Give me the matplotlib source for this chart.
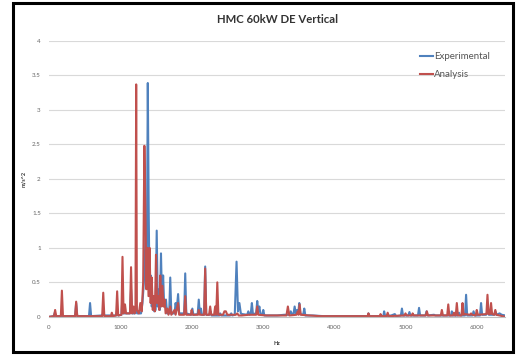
import matplotlib.pyplot as plt
from matplotlib.patches import Rectangle

plt.rcParams['font.family'] = ['Lato', 'DejaVu Sans']

# Experimental spectrum (Hz, m/s^2)
exp_hz = [0, 65, 80, 95, 365, 380, 395, 560, 575, 590, 740, 760, 780, 940, 955, 970,
          1015, 1030, 1045, 1135, 1150, 1165, 1205, 1220, 1235,
          1290, 1310, 1330, 1355, 1370, 1385, 1398, 1410, 1425, 1440, 1460, 1475,
          1495, 1510, 1525, 1545, 1555, 1570, 1585, 1600, 1615, 1640, 1655,
          1685, 1700, 1715, 1760, 1775, 1790, 1810, 1825, 1895, 1910, 1925,
          1995, 2010, 2025, 2085, 2100, 2115, 2130, 2145, 2175, 2190, 2205,
          2250, 2265, 2280, 2390, 2400, 2415, 2540, 2555, 2570,
          2605, 2630, 2650, 2670, 2690, 2710, 2780, 2795, 2810, 2830, 2845, 2860,
          2905, 2920, 2935, 2950, 2965, 2990, 3005, 3020, 3100, 3200, 3300,
          3370, 3390, 3410, 3430, 3445, 3460, 3480, 3495, 3510, 3525, 3565, 3580, 3595,
          3650, 3700, 3850, 4000, 4150, 4300, 4450, 4470, 4480, 4495,
          4690, 4700, 4715, 4800, 4850, 4870, 4935, 4950, 4965, 5040, 5055, 5070,
          5175, 5190, 5205, 5280, 5295, 5310, 5400, 5420, 5640, 5650, 5665,
          5735, 5750, 5765, 5835, 5850, 5865, 5940, 5955, 5970, 6045, 6060, 6075,
          6130, 6150, 6170, 6245, 6260, 6275, 6320, 6350, 6400]
exp_val = [0.0, 0.01, 0.06, 0.01, 0.01, 0.2, 0.01, 0.01, 0.2, 0.01, 0.02, 0.05, 0.02, 0.02, 0.1, 0.02,
           0.03, 0.3, 0.05, 0.05, 0.4, 0.05, 0.05, 0.17, 0.05,
           0.05, 0.2, 0.5, 1.2, 0.5, 3.39, 1.5, 0.3, 0.6, 0.15, 0.3, 0.08,
           0.1, 1.25, 0.15, 0.4, 0.1, 0.92, 0.2, 0.6, 0.15, 0.25, 0.05,
           0.05, 0.57, 0.05, 0.05, 0.2, 0.1, 0.33, 0.05, 0.05, 0.63, 0.05,
           0.03, 0.12, 0.03, 0.04, 0.25, 0.04, 0.12, 0.03, 0.03, 0.73, 0.03,
           0.03, 0.08, 0.02, 0.02, 0.05, 0.02, 0.02, 0.05, 0.02,
           0.03, 0.8, 0.08, 0.2, 0.05, 0.04, 0.03, 0.08, 0.03, 0.05, 0.2, 0.04,
           0.05, 0.23, 0.08, 0.15, 0.04, 0.03, 0.1, 0.02, 0.02, 0.02, 0.03,
           0.03, 0.08, 0.03, 0.05, 0.15, 0.05, 0.1, 0.05, 0.2, 0.04, 0.03, 0.12, 0.02,
           0.02, 0.02, 0.01, 0.01, 0.01, 0.01, 0.01, 0.01, 0.05, 0.01,
           0.01, 0.08, 0.01, 0.02, 0.04, 0.01, 0.02, 0.12, 0.02, 0.02, 0.07, 0.02,
           0.02, 0.13, 0.02, 0.02, 0.08, 0.02, 0.03, 0.02, 0.02, 0.08, 0.02,
           0.02, 0.06, 0.02, 0.02, 0.32, 0.02, 0.02, 0.08, 0.02, 0.02, 0.2, 0.03,
           0.03, 0.08, 0.03, 0.03, 0.08, 0.03, 0.05, 0.03, 0.02]

# Analysis spectrum (Hz, m/s^2)
ana_hz = [0, 70, 85, 100, 165, 180, 195, 365, 380, 395, 745, 760, 775, 870, 880, 895,
          940, 955, 970, 1015, 1030, 1045, 1065, 1080, 1135, 1150, 1165, 1185, 1200,
          1212, 1222, 1232, 1260, 1280, 1300, 1320, 1337, 1350, 1365, 1380, 1395,
          1410, 1425, 1440, 1455, 1470, 1485, 1500, 1515, 1530, 1545, 1560, 1575,
          1590, 1605, 1620, 1635, 1660, 1675, 1700, 1715, 1760, 1775, 1810, 1825,
          1895, 1910, 1925, 1990, 2000, 2015, 2090, 2100, 2115, 2175, 2190, 2205,
          2245, 2260, 2275, 2315, 2330, 2345, 2360, 2375, 2440, 2460, 2480, 2500,
          2620, 2640, 2660, 2700, 2800, 2905, 2920, 2935, 3050, 3200, 3330, 3350, 3370,
          3470, 3490, 3500, 3515, 3530, 3650, 3800, 4000, 4200, 4400,
          4470, 4480, 4495, 4640, 4650, 4665, 4735, 4750, 4765, 4985, 5000, 5015,
          5090, 5100, 5115, 5285, 5300, 5315, 5495, 5510, 5525, 5585, 5600, 5615,
          5665, 5680, 5695, 5705, 5720, 5735, 5785, 5800, 5815, 5830, 5905, 5920, 5935,
          5985, 6000, 6015, 6135, 6150, 6165, 6185, 6200, 6215, 6245, 6260, 6275,
          6320, 6400]
ana_val = [0.0, 0.01, 0.1, 0.01, 0.01, 0.38, 0.01, 0.01, 0.22, 0.01, 0.01, 0.35, 0.01, 0.01, 0.06, 0.01,
           0.02, 0.37, 0.02, 0.03, 0.87, 0.05, 0.18, 0.05, 0.05, 0.72, 0.05, 0.15, 0.05,
           0.1, 3.37, 0.1, 0.05, 0.2, 0.08, 0.5, 2.48, 1.65, 0.4, 1.0, 0.3,
           1.0, 0.2, 0.57, 0.1, 0.3, 0.08, 0.9, 0.2, 0.3, 0.1, 0.6, 0.15,
           0.45, 0.15, 0.25, 0.05, 0.12, 0.03, 0.15, 0.03, 0.1, 0.03, 0.2, 0.03,
           0.03, 0.3, 0.03, 0.03, 0.1, 0.03, 0.03, 0.1, 0.03, 0.03, 0.7, 0.03,
           0.03, 0.15, 0.03, 0.03, 0.15, 0.03, 0.5, 0.03, 0.03, 0.08, 0.08, 0.03,
           0.03, 0.05, 0.02, 0.02, 0.03, 0.03, 0.15, 0.03, 0.02, 0.02, 0.02, 0.15, 0.02,
           0.03, 0.08, 0.03, 0.18, 0.03, 0.02, 0.01, 0.01, 0.01, 0.01,
           0.01, 0.05, 0.01, 0.01, 0.04, 0.01, 0.01, 0.06, 0.01, 0.02, 0.05, 0.02,
           0.02, 0.05, 0.02, 0.02, 0.08, 0.02, 0.02, 0.1, 0.02, 0.02, 0.18, 0.02,
           0.02, 0.06, 0.02, 0.02, 0.2, 0.02, 0.02, 0.2, 0.03, 0.04, 0.03, 0.05, 0.03,
           0.02, 0.1, 0.03, 0.04, 0.32, 0.04, 0.04, 0.2, 0.04, 0.03, 0.1, 0.03,
           0.02, 0.0]

y_ticks = [0, 0.5, 1, 1.5, 2, 2.5, 3, 3.5, 4]
y_labels = ['0', '0.5', '1', '1.5', '2', '2.5', '3', '3.5', '4']
x_ticks = [0, 1000, 2000, 3000, 4000, 5000, 6000]

fig = plt.figure(figsize=(5.22, 3.56), dpi=100)
fig.patches.append(Rectangle((0.024, 0.01), 0.958, 0.982, transform=fig.transFigure,
                             fill=False, edgecolor='black', linewidth=2.2))

ax = fig.add_axes([0.094, 0.11, 0.874, 0.775])
ax.plot(exp_hz, exp_val, color='#4F81BD', linewidth=1.5, label='Experimental')
ax.plot(ana_hz, ana_val, color='#C0504D', linewidth=1.5, label='Analysis')

ax.set_xlim(0, 6400)
ax.set_ylim(0, 4)
ax.set_yticks(y_ticks)
ax.set_yticklabels(y_labels)
ax.set_xticks(x_ticks)
ax.grid(axis='y', color='#d9d9d9', linewidth=0.8)
ax.set_axisbelow(True)
for s in ['top', 'right', 'left']:
    ax.spines[s].set_visible(False)
ax.spines['bottom'].set_color('#bfbfbf')
ax.tick_params(axis='both', labelsize=4.5, colors='#666666', length=0, pad=6)

ax.set_title('HMC 60kW DE Vertical', fontsize=8.2, fontweight='bold', color='#333333', pad=13)
ax.set_xlabel('Hz', fontsize=4, fontweight='bold', color='#333333', labelpad=8)
ax.set_ylabel('m/s^2', fontsize=4, fontweight='bold', color='#333333', labelpad=4)

ax.legend(loc='upper right', bbox_to_anchor=(0.985, 0.99), frameon=False, fontsize=7,
          handlelength=1.3, handletextpad=0.1, labelspacing=0.9, labelcolor='#555555')

fig.savefig('out.png', dpi=100)
